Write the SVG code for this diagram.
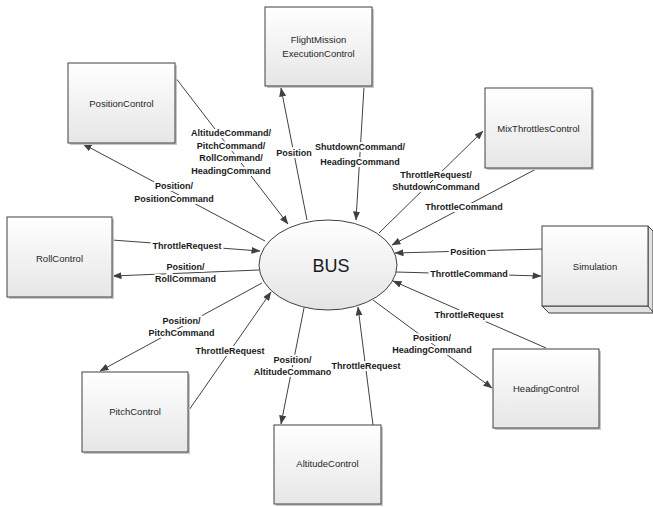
<svg xmlns="http://www.w3.org/2000/svg" width="653" height="507" viewBox="0 0 653 507">
<defs>
<linearGradient id="boxg" x1="0" y1="0" x2="0" y2="1"><stop offset="0" stop-color="#ffffff"/><stop offset="1" stop-color="#e6e6e6"/></linearGradient>
<linearGradient id="elg" x1="0" y1="0" x2="0" y2="1"><stop offset="0" stop-color="#ffffff"/><stop offset="1" stop-color="#e4e4e4"/></linearGradient>
<marker id="ah" markerWidth="9" markerHeight="7" refX="8.5" refY="3.5" orient="auto" markerUnits="userSpaceOnUse"><path d="M0,0 L9,3.5 L0,7 Z" fill="#404040"/></marker>
<style>
.box{fill:url(#boxg);stroke:#404040;stroke-width:1}
.sh{fill:#c8c8c8}
.nt{font-family:"Liberation Sans",Arial,sans-serif;font-size:9.5px;fill:#262626;text-anchor:middle}
.lbl{font-family:"Liberation Sans",Arial,sans-serif;font-size:9px;font-weight:bold;fill:#1a1a1a;text-anchor:middle;stroke:#ffffff;stroke-width:4;paint-order:stroke;stroke-linejoin:round}
.ln{stroke:#404040;stroke-width:1;fill:none;marker-end:url(#ah)}
</style>
</defs>
<rect width="653" height="507" fill="#ffffff"/>
<g id="connectors">
<line class="ln" x1="307" y1="220" x2="281" y2="88"/>
<line class="ln" x1="364" y1="87" x2="356" y2="220"/>
<line class="ln" x1="175" y1="77" x2="288" y2="224"/>
<line class="ln" x1="265" y1="241" x2="83" y2="144"/>
<line class="ln" x1="112" y1="240" x2="260" y2="251"/>
<line class="ln" x1="259" y1="270" x2="113" y2="276"/>
<line class="ln" x1="262" y1="283" x2="100" y2="371"/>
<line class="ln" x1="189" y1="410" x2="271" y2="292"/>
<line class="ln" x1="304" y1="308" x2="281" y2="424"/>
<line class="ln" x1="373" y1="425" x2="358" y2="307"/>
<line class="ln" x1="373" y1="300" x2="492" y2="388"/>
<line class="ln" x1="546" y1="348" x2="393" y2="281"/>
<line class="ln" x1="542" y1="249" x2="395" y2="253"/>
<line class="ln" x1="396" y1="272" x2="541" y2="276"/>
<line class="ln" x1="538" y1="168" x2="392" y2="245"/>
<line class="ln" x1="379" y1="233" x2="483" y2="131"/>
<text class="lbl" x="294" y="156">Position</text>
<text class="lbl" x="360" y="150">ShutdownCommand/</text>
<text class="lbl" x="360" y="165">HeadingCommand</text>
<text class="lbl" x="231" y="136">AltitudeCommand/</text>
<text class="lbl" x="231" y="149">PitchCommand/</text>
<text class="lbl" x="231" y="161">RollCommand/</text>
<text class="lbl" x="231" y="173.5">HeadingCommand</text>
<text class="lbl" x="174" y="189">Position/</text>
<text class="lbl" x="174" y="202">PositionCommand</text>
<text class="lbl" x="187" y="249">ThrottleRequest</text>
<text class="lbl" x="185.5" y="270">Position/</text>
<text class="lbl" x="185.5" y="282">RollCommand</text>
<text class="lbl" x="181.5" y="324">Position/</text>
<text class="lbl" x="181.5" y="336">PitchCommand</text>
<text class="lbl" x="230" y="354">ThrottleRequest</text>
<text class="lbl" x="292.5" y="363">Position/</text>
<text class="lbl" x="292.5" y="375">AltitudeCommano</text>
<text class="lbl" x="366" y="369">ThrottleRequest</text>
<text class="lbl" x="432" y="341">Position/</text>
<text class="lbl" x="432" y="353">HeadingCommand</text>
<text class="lbl" x="469" y="318">ThrottleRequest</text>
<text class="lbl" x="468" y="255">Position</text>
<text class="lbl" x="469" y="277">ThrottleCommand</text>
<text class="lbl" x="464" y="210">ThrottleCommand</text>
<text class="lbl" x="436" y="178">ThrottleRequest/</text>
<text class="lbl" x="436" y="190">ShutdownCommand</text>
</g>
<g id="bus">
<ellipse cx="328" cy="265" rx="69" ry="45" fill="url(#elg)" stroke="#404040" stroke-width="1"/>
<text x="331" y="272" font-family="Liberation Sans, Arial, sans-serif" font-size="18" fill="#1a1a1a" text-anchor="middle">BUS</text>
</g>
<g id="flightmission">
<rect class="sh" x="267" y="9" width="107" height="79"/>
<rect class="box" x="265" y="7" width="107" height="79"/>
<text class="nt" x="318.5" y="43">FlightMission</text>
<text class="nt" x="318.5" y="57">ExecutionControl</text>
</g>
<g id="positioncontrol">
<rect class="sh" x="70" y="65" width="107" height="80"/>
<rect class="box" x="68" y="63" width="107" height="80"/>
<text class="nt" x="121.5" y="107">PositionControl</text>
</g>
<g id="mixthrottles">
<rect class="sh" x="487" y="90" width="107" height="80"/>
<rect class="box" x="485" y="88" width="107" height="80"/>
<text class="nt" x="538.5" y="132">MixThrottlesControl</text>
</g>
<g id="simulation">
<polygon points="542,306 549,313 653,313 653,231 648,226 648,306" fill="#e2e2e2" stroke="#404040" stroke-width="1"/>
<line x1="648" y1="306" x2="653" y2="312" stroke="#404040" stroke-width="1"/>
<rect x="542" y="226" width="106" height="80" fill="url(#boxg)" stroke="#404040" stroke-width="1"/>
<text class="nt" x="595" y="270">Simulation</text>
</g>
<g id="rollcontrol">
<rect class="sh" x="9" y="219" width="105" height="80"/>
<rect class="box" x="7" y="217" width="105" height="80"/>
<text class="nt" x="59.5" y="262">RollControl</text>
</g>
<g id="pitchcontrol">
<rect class="sh" x="84" y="374" width="106" height="80"/>
<rect class="box" x="82" y="372" width="106" height="80"/>
<text class="nt" x="135" y="415">PitchControl</text>
</g>
<g id="altitudecontrol">
<rect class="sh" x="276" y="427" width="107" height="79"/>
<rect class="box" x="274" y="425" width="107" height="79"/>
<text class="nt" x="327.5" y="467">AltitudeControl</text>
</g>
<g id="headingcontrol">
<rect class="sh" x="495" y="351" width="106" height="79"/>
<rect class="box" x="493" y="349" width="106" height="79"/>
<text class="nt" x="546" y="392">HeadingControl</text>
</g>
</svg>
